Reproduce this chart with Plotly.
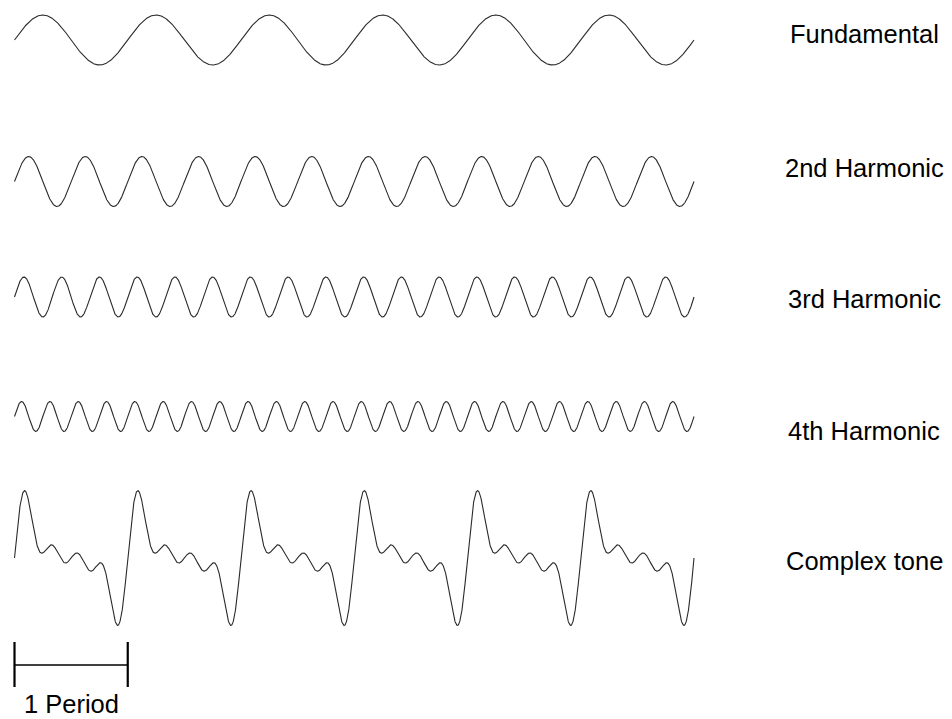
import numpy as np
import plotly.graph_objects as go

# ---- data ----
labels = ["Fundamental", "2nd Harmonic", "3rd Harmonic", "4th Harmonic", "Complex tone"]
harmonic_numbers = [1, 2, 3, 4]
harmonic_amplitudes = [1.0, 1.0, 0.8, 0.6]   # relative amplitude of each harmonic
harmonic_phases = [0.0, 0.0, 0.0, 0.0]       # radians
n_periods = 6                                  # periods shown
scale_bar_periods = 1
scale_bar_label = "1 Period"

# ---- layout constants (positions / styles) ----
W, H = 952, 719
PX_PER_UNIT = 25.0
row_centers_px = [40, 181.5, 297, 416.5, 558]
x_left_px, x_right_px = 14.5, 694.0
label_x_px = 864
label_y_px = [33.7, 168, 298.7, 431.3, 561]

px_per_period = (x_right_px - x_left_px) / n_periods
x0 = -x_left_px / px_per_period
x1 = x0 + W / px_per_period

def ypx(p):
    return -p / PX_PER_UNIT

t = np.linspace(0, n_periods, 4000)
waves = []
for n, a, ph in zip(harmonic_numbers, harmonic_amplitudes, harmonic_phases):
    waves.append(a * np.sin(2 * np.pi * n * t + ph))
complex_tone = np.sum(waves, axis=0)
all_waves = waves + [complex_tone]

line_color = "#2a2a2a"
fig = go.Figure()
for i, w in enumerate(all_waves):
    fig.add_trace(go.Scatter(
        x=t, y=ypx(row_centers_px[i]) + w, mode="lines",
        line=dict(color=line_color, width=1.1), hoverinfo="skip", showlegend=False))

# scale bar
bar_y = ypx(665)
bar_top, bar_bot = ypx(642), ypx(687)
fig.add_trace(go.Scatter(x=[0, scale_bar_periods], y=[bar_y, bar_y], mode="lines",
                         line=dict(color="#000", width=1.4), showlegend=False, hoverinfo="skip"))
for xb in [0, scale_bar_periods]:
    fig.add_trace(go.Scatter(x=[xb, xb], y=[bar_top, bar_bot], mode="lines",
                             line=dict(color="#000", width=2.2), showlegend=False, hoverinfo="skip"))

font = dict(family="Liberation Sans, Arial, Helvetica, sans-serif", size=25.5, color="#000")
annotations = []
for lab, ly in zip(labels, label_y_px):
    annotations.append(dict(x=(label_x_px - x_left_px) / px_per_period, y=ypx(ly),
                            xref="x", yref="y", text=lab, showarrow=False,
                            xanchor="center", yanchor="middle", font=font))
annotations.append(dict(x=scale_bar_periods / 2, y=ypx(H), xref="x", yref="y",
                        text=scale_bar_label, showarrow=False, borderpad=0,
                        xanchor="center", yanchor="bottom", font=font))

fig.update_layout(
    width=W, height=H, autosize=False,
    margin=dict(l=0, r=0, t=0, b=0),
    paper_bgcolor="white", plot_bgcolor="white",
    xaxis=dict(range=[x0, x1], visible=False, fixedrange=True),
    yaxis=dict(range=[-H / PX_PER_UNIT, 0], visible=False, fixedrange=True),
    annotations=annotations,
)
fig.write_html("out.html", config={"displayModeBar": False},
               post_script="document.body.style.margin='0';document.body.style.padding='0';document.body.style.overflow='hidden';")
